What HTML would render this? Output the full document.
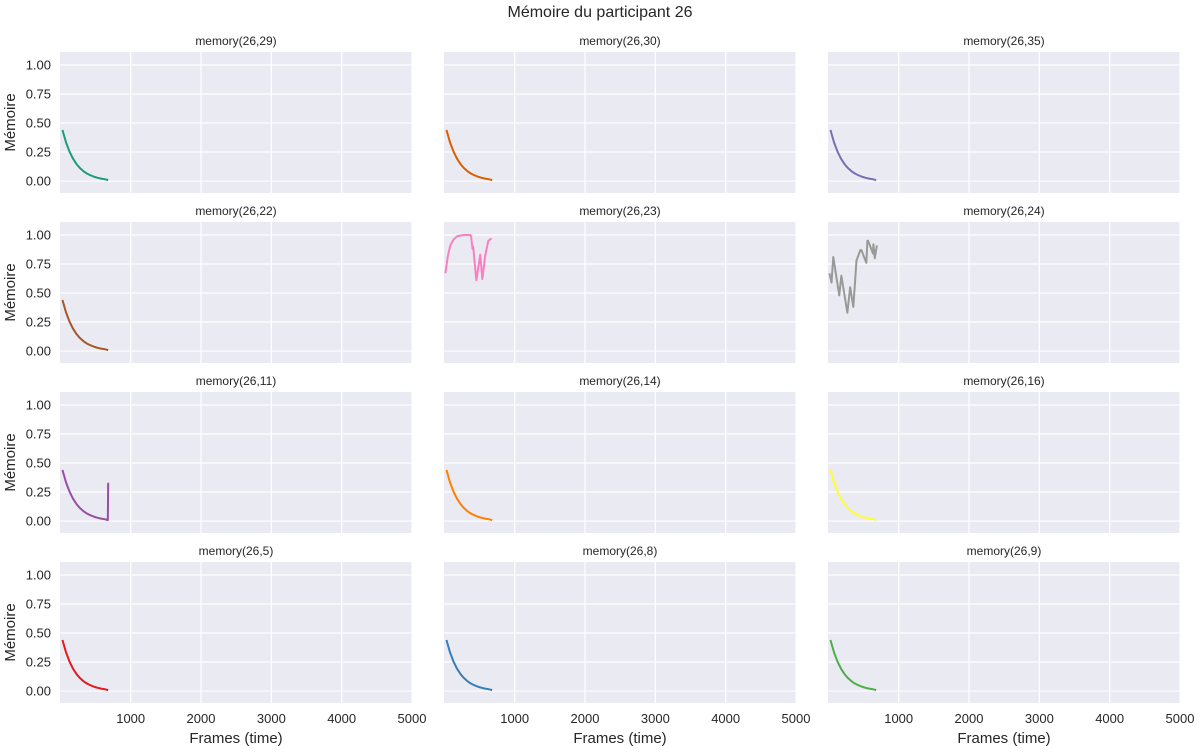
<!DOCTYPE html>
<html><head><meta charset="utf-8"><style>
body{margin:0;background:#fff;font-family:"Liberation Sans",sans-serif}
svg text{font-family:"Liberation Sans",sans-serif;fill:#262626}
</style></head><body>
<svg id="c" width="1200" height="750">
<text x="600" y="17" text-anchor="middle" font-size="16">Mémoire du participant 26</text>
</svg>
<script>
const titles=["memory(26,29)","memory(26,30)","memory(26,35)","memory(26,22)","memory(26,23)","memory(26,24)","memory(26,11)","memory(26,14)","memory(26,16)","memory(26,5)","memory(26,8)","memory(26,9)"];
const colors=["#1b9e77","#d95f02","#7570b3","#a65628","#f781bf","#999999","#984ea3","#ff7f00","#ffff33","#e41a1c","#377eb8","#4daf4a"];
const decayFrames=[30,80,130,180,230,280,330,380,430,480,530,580,630,680];
const decayVals=[0.44,0.334,0.254,0.193,0.146,0.111,0.084,0.064,0.049,0.037,0.028,0.021,0.016,0.008];
const s11Frames=[30,80,130,180,230,280,330,380,430,480,530,580,630,675,680];
const s11Vals=[0.44,0.334,0.254,0.193,0.146,0.111,0.084,0.064,0.049,0.037,0.028,0.021,0.016,0.008,0.33];
const s23Frames=[15,50,85,130,185,280,370,380,400,410,455,510,540,580,625,670];
const s23Vals=[0.67,0.82,0.91,0.96,0.99,1.0,1.0,0.99,0.88,0.9,0.61,0.83,0.62,0.82,0.95,0.97];
const s24Frames=[15,45,70,155,185,270,310,355,400,455,470,540,555,565,635,640,660,690];
const s24Vals=[0.67,0.59,0.81,0.48,0.65,0.33,0.55,0.38,0.78,0.87,0.87,0.76,0.95,0.95,0.84,0.92,0.80,0.91];
const xTicks=[1000,2000,3000,4000,5000];
const yTicks=[0,0.25,0.5,0.75,1.0];
const series=[[decayFrames,decayVals],[decayFrames,decayVals],[decayFrames,decayVals],[decayFrames,decayVals],[s23Frames,s23Vals],[s24Frames,s24Vals],[s11Frames,s11Vals],[decayFrames,decayVals],[decayFrames,decayVals],[decayFrames,decayVals],[decayFrames,decayVals],[decayFrames,decayVals]];
const NS="http://www.w3.org/2000/svg",svg=document.getElementById('c');
function mk(t,a,p){const e=document.createElementNS(NS,t);for(const k in a)e.setAttribute(k,a[k]);(p||svg).appendChild(e);return e;}
const colX=[60,444,828],rowY=[52,222,392,562],W=352,H=141;
const X0=-5,X1=5000,Y0=-0.103,Y1=1.112;
for(let i=0;i<12;i++){
 const c=i%3,r=Math.floor(i/3),L=colX[c],T=rowY[r];
 const sx=f=>L+(f-X0)/(X1-X0)*W, sy=v=>T+H-(v-Y0)/(Y1-Y0)*H;
 const g=mk('g',{});
 
 
 const bg=mk('rect',{x:L,y:T,width:W,height:H,fill:'#eaeaf2'},g);
 
 xTicks.forEach(t=>{const l=mk('line',{x1:sx(t),x2:sx(t),y1:T,y2:T+H,stroke:'#fff','stroke-width':1.2},g);
  if(r==3){const tx=mk('text',{x:sx(t),y:T+H+20,'text-anchor':'middle','font-size':13},g);tx.textContent=t;}});
 yTicks.forEach(t=>{const l=mk('line',{x1:L,x2:L+W,y1:sy(t),y2:sy(t),stroke:'#fff','stroke-width':1.2},g);
  if(c==0){const tx=mk('text',{x:L-9,y:sy(t)+4.5,'text-anchor':'end','font-size':13},g);tx.textContent=t.toFixed(2);}});
 const tt=mk('text',{x:L+W/2,y:T-7,'text-anchor':'middle','font-size':12},g);tt.textContent=titles[i];
 
 const [fs,vs]=series[i];
 const p=mk('polyline',{points:fs.map((f,j)=>sx(f)+','+sy(vs[j])).join(' '),fill:'none',stroke:colors[i],'stroke-width':2,'stroke-linejoin':'round'},g);
 
 if(c==0){const yl=mk('text',{x:0,y:0,transform:`translate(15,${T+H/2}) rotate(-90)`,'text-anchor':'middle','font-size':15},g);yl.textContent='Mémoire';}
 if(r==3){const xl=mk('text',{x:L+W/2,y:743,'text-anchor':'middle','font-size':15},g);xl.textContent='Frames (time)';}
}
</script>
</body></html>
